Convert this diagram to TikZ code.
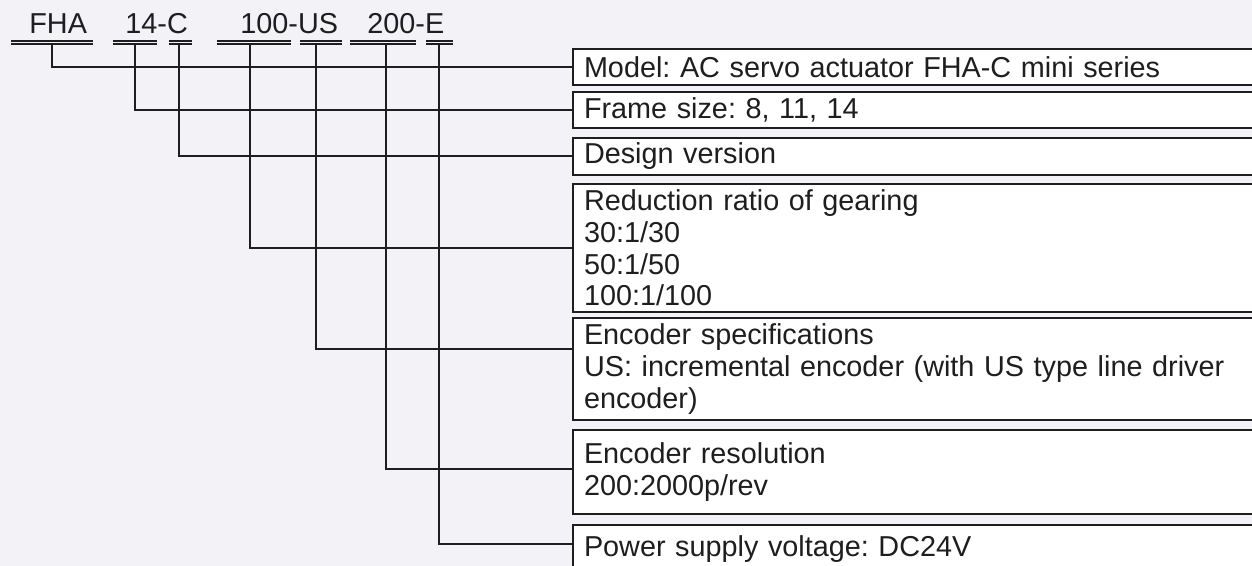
\documentclass[tikz,border=0pt]{standalone}
\usepackage{fontspec}
\setmainfont{Liberation Sans}
\frenchspacing
\definecolor{bgpaper}{RGB}{242,242,247}
\definecolor{inkline}{RGB}{30,30,30}
\tikzset{
	infobox/.style={draw=inkline, line width=1pt, fill=white, anchor=north west,
		minimum width=340pt, text width=329pt, inner xsep=5.5pt, inner ysep=0pt,
		align=left, text=inkline, font=\fontsize{14.4}{15.8}\selectfont},
	codetext/.style={anchor=base west, inner sep=0pt, text=inkline, font=\fontsize{14.4}{15.8}\selectfont},
	uline/.style={draw=inkline, line width=0.6pt},
	conn/.style={draw=inkline, line width=1pt}
}
\begin{document}
\begin{tikzpicture}[x=0.5pt, y=-0.5pt]

	% 0. Fondo y marco
	\fill[bgpaper] (0,0) rectangle (1252,566);
	\useasboundingbox (0,0) rectangle (1252,566);
	\clip (0,0) rectangle (1252,566);

	% 1. Codigo del modelo
	\node[codetext] (cFHA) at (29,34) {FHA};
	\node[codetext] (cSize) at (125,34) {14-C};
	\node[codetext] (cRatio) at (240,34) {100-US};
	\node[codetext] (cEnc) at (367,34) {200-E};

	% doble subrayado y punto de partida de cada linea
	\foreach \nm/\xa/\xb/\xs in {uFHA/11/93/52, uSize/113/157/135, uDesign/169/192/179,
		uRatio/217/291/250, uSpec/300/342/316, uRes/350/416/386, uVolt/426/453/439} {
		\draw[uline] (\xa,41) -- (\xb,41) (\xa,44) -- (\xb,44);
		\coordinate (\nm) at (\xs,44);
	}

	% 2. Cajas de descripcion
	\node[infobox, minimum height=18pt] (model) at (572,48) {Model: AC servo actuator FHA-C mini series};
	\node[infobox, minimum height=18pt] (frame) at (572,91) {Frame size: 8, 11, 14};
	\node[infobox, minimum height=18.5pt] (design) at (572,137) {Design version};
	\node[infobox, minimum height=64pt] (ratio) at (572,183) {Reduction ratio of gearing\\30:1/30\\50:1/50\\100:1/100};
	\node[infobox, minimum height=51pt] (spec) at (572,317) {Encoder specifications\\US: incremental encoder (with US type line driver\\encoder)};
	\node[infobox, minimum height=42pt] (resol) at (572,429) {Encoder resolution\\200:2000p/rev};
	\node[infobox, minimum height=24pt] (volt) at (572,524) {Power supply voltage: DC24V};

	% 3. Conexiones (codigo -> caja)
	\draw[conn] (uFHA) |- (model.west);
	\draw[conn] (uSize) |- (frame.west);
	\draw[conn] (uDesign) |- (design.west);
	\draw[conn] (uRatio) |- (ratio.west);
	\draw[conn] (uSpec) |- ([yshift=10pt]spec.west);
	\draw[conn] (uRes) |- ([yshift=1.5pt]resol.west);
	\draw[conn] (uVolt) |- ([yshift=2.5pt]volt.west);

\end{tikzpicture}
\end{document}
